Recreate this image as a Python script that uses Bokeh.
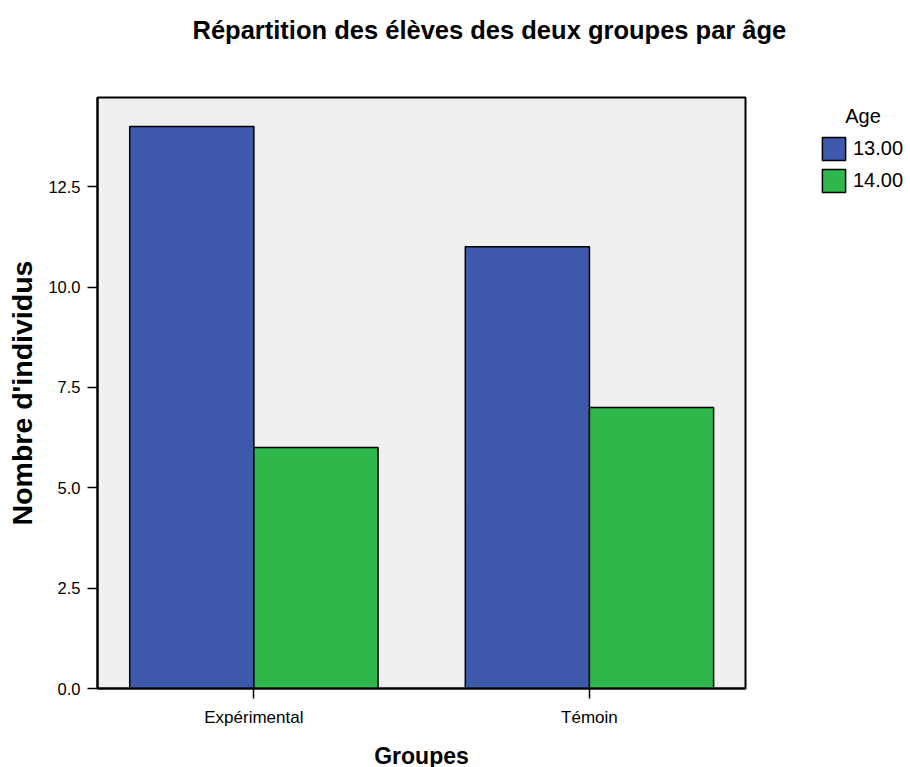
from bokeh.plotting import figure
from bokeh.models import (ColumnDataSource, FixedTicker, PrintfTickFormatter, Legend,
                          LegendItem, Range1d, Title)
from bokeh.transform import dodge
from bokeh.embed import file_html
from bokeh.resources import INLINE

# ---- data ----
groups = ["Expérimental", "Témoin"]
age_labels = ["13.00", "14.00"]
counts_13 = [14, 11]
counts_14 = [6, 7]
bar_colors = ["#3E58AC", "#2EB84C"]
y_ticks = [0.0, 2.5, 5.0, 7.5, 10.0, 12.5]

title_text = "Répartition des élèves des deux groupes par âge"
x_title = "Groupes"
y_title = "Nombre d'individus"
legend_title = "Age"

FONT = "Liberation Sans"

xs = list(range(len(groups)))
src = ColumnDataSource(dict(x=xs, a13=counts_13, a14=counts_14))

p = figure(frame_width=648, frame_height=591,
           min_border_left=97, min_border_top=97, min_border_right=160, min_border_bottom=70,
           x_range=Range1d(-0.466, 1.465), y_range=Range1d(0, 14.72),
           output_backend="svg", toolbar_location=None, tools="")

p.background_fill_color = "#F0F0F0"
p.border_fill_color = "white"
p.outline_line_color = "black"
p.outline_line_width = 2
p.xgrid.visible = False
p.ygrid.visible = False

bw = 0.37
r13 = p.vbar(x=dodge("x", -bw / 2), top="a13", width=bw, source=src,
             fill_color=bar_colors[0], line_color="black", line_width=1.5)
r14 = p.vbar(x=dodge("x", bw / 2), top="a14", width=bw, source=src,
             fill_color=bar_colors[1], line_color="black", line_width=1.5)

# axes
p.xaxis.ticker = FixedTicker(ticks=xs)
p.xaxis.major_label_overrides = {i: g for i, g in zip(xs, groups)}
p.yaxis.ticker = FixedTicker(ticks=y_ticks)
p.yaxis.formatter = PrintfTickFormatter(format="%.1f")
for ax in (p.xaxis[0], p.yaxis[0]):
    ax.axis_line_color = "black"
    ax.axis_line_width = 2
    ax.major_tick_line_color = "black"
    ax.major_tick_line_width = 1.5
    ax.major_tick_in = 0
    ax.major_tick_out = 10
    ax.minor_tick_line_color = None
    ax.major_label_text_font = FONT
    ax.major_label_text_color = "black"
    ax.axis_label_text_font = FONT
    ax.axis_label_text_font_style = "bold"
    ax.axis_label_text_color = "black"

p.xaxis.major_label_text_font_size = "17px"
p.xaxis.major_label_standoff = 9
p.xaxis.axis_label = x_title
p.xaxis.axis_label_standoff = 13
p.xaxis.axis_label_text_font_size = "23px"
p.yaxis.major_label_text_font_size = "16.5px"
p.yaxis.major_label_standoff = 7
p.yaxis.axis_label = y_title
p.yaxis.axis_label_standoff = 7
p.yaxis.axis_label_text_font_size = "28.5px"

# title: a blank spacer next to the frame, then the title text above it
p.add_layout(Title(text=" ", text_font_size="1px", standoff=51), "above")
p.add_layout(Title(text=title_text, align="left", offset=95, standoff=0,
                   text_font=FONT, text_font_style="bold", text_font_size="25.5px",
                   text_color="black"), "above")

legend = Legend(items=[LegendItem(label=age_labels[0], renderers=[r13]),
                       LegendItem(label=age_labels[1], renderers=[r14])],
                location=(74, 493), title="\u00a0\u00a0\u00a0\u00a0\u2009" + legend_title,
                title_text_font=FONT, title_text_font_size="20px", title_text_font_style="normal",
                title_text_color="black",
                label_text_font=FONT, label_text_font_size="20px", label_text_color="black",
                glyph_width=29, glyph_height=29, label_standoff=5, spacing=3,
                padding=0, margin=0, border_line_alpha=0, background_fill_alpha=0,
                title_standoff=6)
p.add_layout(legend, "right")

open("out.html", "w").write(file_html(p, INLINE))
